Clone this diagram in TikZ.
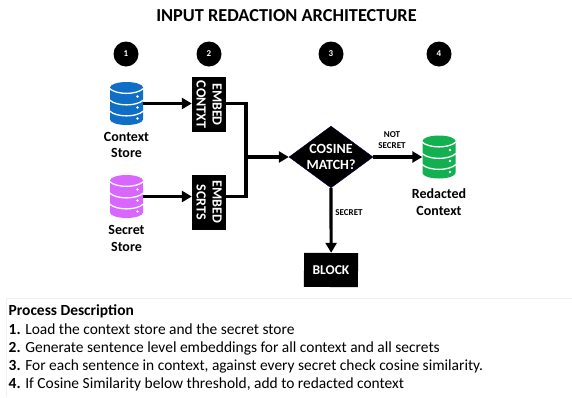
\documentclass[tikz,border=0pt]{standalone}
\usepackage{fontspec}
\setmainfont{Carlito}
\usetikzlibrary{arrows.meta,shapes.geometric}
\definecolor{cblue}{HTML}{0F6FC6}
\definecolor{cpurple}{HTML}{D966FF}
\definecolor{cgreen}{HTML}{12B050}
\tikzset{
  x=1pt,y=-1pt,
  num/.style={circle,fill=black,text=white,minimum size=25pt,inner sep=0pt,font=\bfseries\fontsize{9}{10}\selectfont},
  emb/.style={fill=black,text=white,minimum width=55pt,minimum height=34pt,inner sep=0pt,rotate=-90,align=center,font=\bfseries\fontsize{14}{16}\selectfont},
  lab/.style={align=center,inner sep=0pt,font=\bfseries\fontsize{14}{16.5}\selectfont},
  small/.style={align=center,inner sep=0pt,font=\bfseries\fontsize{9}{11}\selectfont},
  store/.style={minimum width=33pt,minimum height=43pt,inner sep=0pt},
  conn/.style={line width=3.2pt,-{Triangle[length=10pt,width=11pt]}},
  connp/.style={line width=3.2pt},
  desc/.style={anchor=west,inner sep=0pt,font=\fontsize{15.45}{18}\selectfont},
  cyl/.pic={
    \fill[pic actions] (-16.5,-16) .. controls (-16.5,-19) and (-9,-21.5) .. (0,-21.5) .. controls (9,-21.5) and (16.5,-19) .. (16.5,-16) -- (16.5,16) .. controls (16.5,19) and (9,21.5) .. (0,21.5) .. controls (-9,21.5) and (-16.5,19) .. (-16.5,16) -- cycle;
    \draw[white,line width=1.3pt] (-17,-15) .. controls (-10,-8.5) and (10,-8.5) .. (17,-15);
    \draw[white,line width=1.3pt] (-17,-3.5) .. controls (-10,3) and (10,3) .. (17,-3.5);
    \draw[white,line width=1.3pt] (-17,7.5) .. controls (-10,14) and (10,14) .. (17,7.5);
    \fill[white] (11,-7) circle[radius=1.3] (11,4) circle[radius=1.3] (11,15) circle[radius=1.3];
  },
}
\begin{document}
\begin{tikzpicture}
\useasboundingbox (0,0) rectangle (572,397);
\fill[white] (0,0) rectangle (572,397);
\draw[black!6,line width=0.6pt] (6,298.5) -- (572,298.5);
\draw[black!6,line width=0.6pt] (6,298.5) -- (6,397);
\node[inner sep=0pt,font=\bfseries\fontsize{18.3}{20}\selectfont] (title) at (286.5,16) {INPUT REDACTION ARCHITECTURE};
\node[num] (n1) at (126,54) {1};
\node[num] (n2) at (209,54) {2};
\node[num] (n3) at (331,54) {3};
\node[num] (n4) at (439,54) {4};
\node[store] (ctx) at (126.5,103.5) {};
\node[store] (sec) at (126.5,196.5) {};
\node[store] (red) at (439,157) {};
\pic[fill=cblue] at (ctx.center) {cyl};
\pic[fill=cpurple] at (sec.center) {cyl};
\pic[fill=cgreen] at (red.center) {cyl};
\node[lab] (ctxl) at (126.5,145) {Context\\Store};
\node[lab] (secl) at (126.5,238.5) {Secret\\Store};
\node[lab] (redl) at (439,202) {Redacted\\Context};
\node[emb] (e1) at (209,104.5) {EMBED\\CONTXT};
\node[emb] (e2) at (209,202) {EMBED\\SCRTS};
\node[diamond,fill=black,draw=black!70!blue,line width=0.4pt,inner sep=0pt,minimum width=83pt,minimum height=61pt,aspect=1.36,text=white,align=center,font=\bfseries\fontsize{14}{16.5}\selectfont] (d) at (331,157) {COSINE\\MATCH?};
\node[fill=black,text=white,minimum width=54pt,minimum height=34pt,inner sep=0pt,rotate=-0.5,font=\bfseries\fontsize{13.5}{16}\selectfont] (block) at (331,270) {BLOCK};
\coordinate (j) at (246,157);
\draw[conn] (ctx.east|-ctx) -- (e1.south|-ctx);
\draw[conn] (sec.east|-sec) -- (e2.south|-sec);
\draw[connp,line join=miter] (e1.north|-ctx) -- (j|-ctx) -- (j|-sec) -- (e2.north|-sec);
\draw[conn] (j) -- (d.west);
\draw[conn] (d.east) -- (red.west);
\draw[conn] (d.south) -- (block.north);
\node[small] (ns) at (392,140.5) {NOT\\SECRET};
\node[small] (sl) at (349,213) {SECRET};
\node[desc,font=\bfseries\fontsize{15.45}{18}\selectfont] (dh) at (8.5,311) {Process Description};
\node[desc] (d1) at (8.5,329.5) {\textbf{1.} Load the context store and the secret store};
\node[desc] (d2) at (8.5,348) {\textbf{2.} Generate sentence level embeddings for all context and all secrets};
\node[desc] (d3) at (8.5,366) {\textbf{3.} For each sentence in context, against every secret check cosine similarity.};
\node[desc] (d4) at (8.5,384.5) {\textbf{4.} If Cosine Similarity below threshold, add to redacted context};
\end{tikzpicture}
\end{document}
